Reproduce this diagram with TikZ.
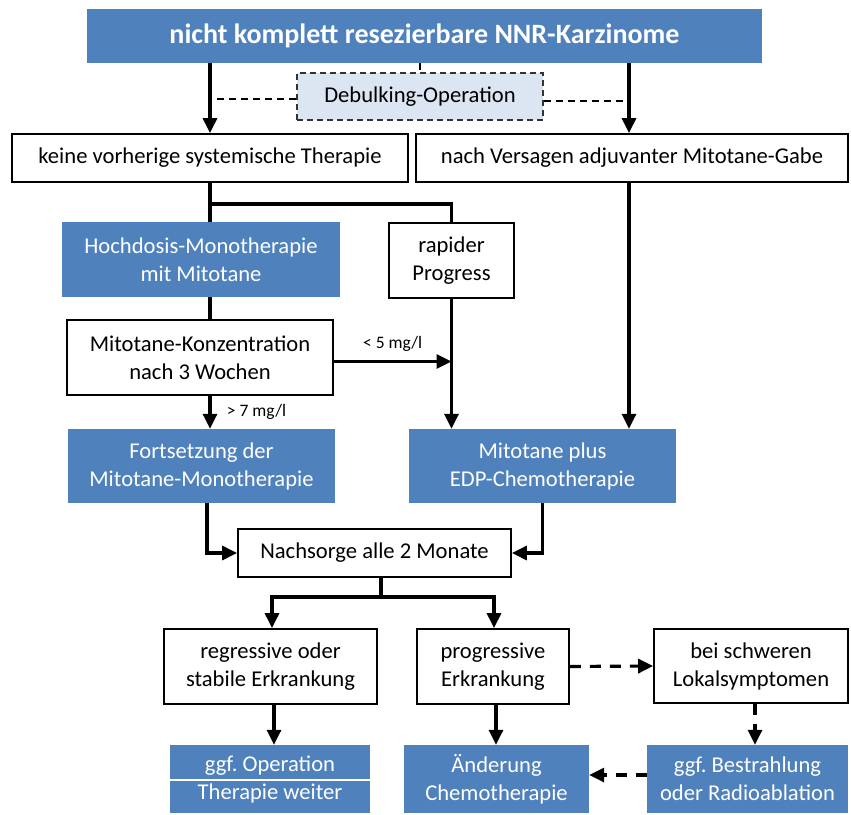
\documentclass[tikz,border=0pt]{standalone}
\usepackage{fontspec}
\setmainfont{Carlito}
\usetikzlibrary{arrows.meta}
\definecolor{nnrblue}{HTML}{4F81BD}
\definecolor{nnrlight}{HTML}{DCE6F2}
\tikzset{
    base-box/.style = {rectangle, inner sep=2pt, align=center, font=\fontsize{22.6}{28}\selectfont},
    white-box/.style = {base-box, draw=black, line width=1.8pt, fill=white},
    blue-box/.style = {base-box, fill=nnrblue, text=white},
    dashed-box/.style = {base-box, draw=black!80, line width=1.3pt, dash pattern=on 6pt off 4pt, fill=nnrlight},
    flow/.style = {line width=3.2pt},
    flow-arrow/.style = {flow, -{Triangle[length=15pt,width=14pt]}},
    dash-arrow/.style = {flow-arrow, dash pattern=on 11pt off 9pt},
    thin-dash/.style = {line width=1.3pt, dash pattern=on 7pt off 5pt},
    small-label/.style = {font=\fontsize{17.5}{20}\selectfont},
}

\begin{document}
\frenchspacing
\begin{tikzpicture}[x=1pt, y=-1pt]
\useasboundingbox (0,0) rectangle (851,814);

% boxes
\node[blue-box, minimum width=675pt, minimum height=54pt, font=\fontsize{28}{32}\selectfont\bfseries] (title) at (424.5,36) {nicht komplett resezierbare NNR-Karzinome};
\node[dashed-box, minimum width=246pt, minimum height=47pt] (debulk) at (420,96.5) {Debulking-Operation};
\node[white-box, minimum width=396pt, minimum height=48pt] (keine) at (210,158) {keine vorherige systemische Therapie};
\node[white-box, minimum width=432pt, minimum height=48pt] (nach) at (632,158) {nach Versagen adjuvanter Mitotane-Gabe};
\node[blue-box, minimum width=278pt, minimum height=75pt] (hochdosis) at (201,259.5) {Hochdosis-Monotherapie\\mit Mitotane};
\node[white-box, minimum width=125pt, minimum height=75pt] (rapider) at (451.5,260.5) {rapider\\Progress};
\node[white-box, minimum width=266pt, minimum height=75pt] (konz) at (200,357.5) {Mitotane-Konzentration\\nach 3 Wochen};
\node[blue-box, minimum width=267pt, minimum height=74pt] (fort) at (201.5,466) {Fortsetzung der\\Mitotane-Monotherapie};
\node[blue-box, minimum width=267pt, minimum height=74pt] (plus) at (542.5,466) {Mitotane plus\\EDP-Chemotherapie};
\node[white-box, minimum width=273pt, minimum height=48pt] (nachsorge) at (374.5,553) {Nachsorge alle 2 Monate};
\node[white-box, minimum width=213pt, minimum height=75pt] (regr) at (270.5,666.5) {regressive oder\\stabile Erkrankung};
\node[white-box, minimum width=152pt, minimum height=75pt] (progr) at (493,666.5) {progressive\\Erkrankung};
\node[white-box, minimum width=194pt, minimum height=74pt] (schwer) at (751,666) {bei schweren\\Lokalsymptomen};
\node[blue-box, minimum width=200pt, minimum height=68pt] (oper) at (270,779) {ggf. Operation\\Therapie weiter};
\node[blue-box, minimum width=185pt, minimum height=68pt] (aender) at (496.5,779) {Änderung\\Chemotherapie};
\node[blue-box, minimum width=201pt, minimum height=68pt] (bestr) at (747.5,779) {ggf. Bestrahlung\\oder Radioablation};
\draw[white, line width=1.5pt] ([yshift=-1pt]oper.west) -- ([yshift=-1pt]oper.east);

% debulking
\draw[thin-dash] (title.south -| debulk.north) -- (debulk.north);
\draw[thin-dash] ([yshift=-2.5pt]debulk.west) -- ([yshift=-2.5pt]debulk.west -| keine.north);
\draw[thin-dash] ([yshift=-4.5pt]debulk.east) -- ([yshift=-4.5pt]debulk.east -| 629,0);

% connectors
\draw[flow-arrow] (title.south -| keine.north) -- (keine.north);
\draw[flow-arrow] (title.south -| 629,0) -- (nach.north -| 629,0);
\draw[flow] (keine.south) -- (keine.south |- hochdosis.north);
\draw[flow] (keine.south) -- ++(0,21) -| (rapider.north);
\draw[flow] (keine.south |- hochdosis.south) -- (keine.south |- konz.north);
\draw[flow-arrow] (keine.south |- konz.south) -- (keine.south |- fort.north)
    node[small-label, midway, right=12pt] {> 7 mg/l};
\draw[flow-arrow] ([yshift=-4pt]konz.east) -- ([yshift=-4pt]konz.east -| rapider.south)
    node[small-label, midway, above=5pt] {< 5 mg/l};
\draw[flow-arrow] (rapider.south) -- (rapider.south |- plus.north);
\draw[flow-arrow] (nach.south -| 629,0) -- (plus.north -| 629,0);
\draw[flow-arrow] ([xshift=5.5pt]fort.south) |- (nachsorge.west);
\draw[flow-arrow] (plus.south) |- (nachsorge.east);
\draw[flow] ([xshift=6.5pt]nachsorge.south) -- ++(0,19) coordinate (split);
\draw[flow-arrow] (split) -| ([xshift=1.5pt]regr.north);
\draw[flow-arrow] (split) -| ([xshift=1pt]progr.north);
\draw[flow-arrow] ([xshift=3.5pt]regr.south) -- ([xshift=3.5pt]regr.south |- oper.north);
\draw[flow-arrow] ([xshift=3pt]progr.south) -- ([xshift=3pt]progr.south |- aender.north);
\draw[dash-arrow] (progr.east) -- (schwer.west);
\draw[dash-arrow] ([xshift=4pt]schwer.south) -- ([xshift=4pt]schwer.south |- bestr.north);
\draw[dash-arrow] ([yshift=4pt]bestr.west) -- ([yshift=4pt]bestr.west -| aender.east);
\end{tikzpicture}
\end{document}
